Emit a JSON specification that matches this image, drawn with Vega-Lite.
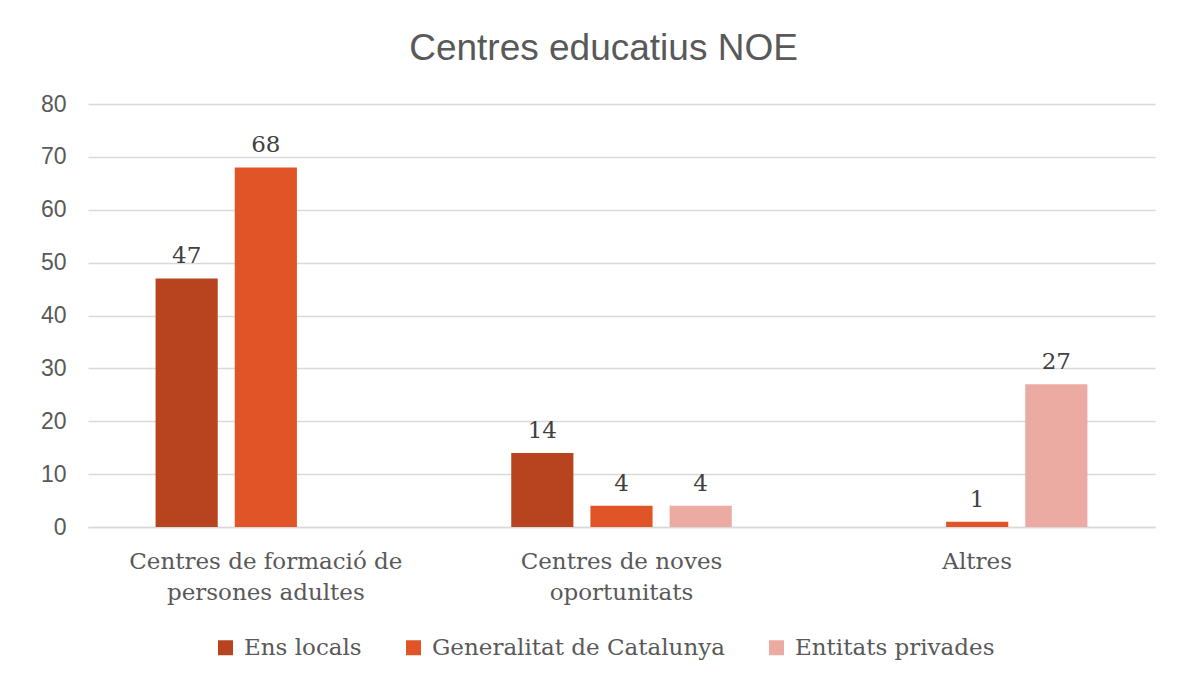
{
  "$schema": "https://vega.github.io/schema/vega-lite/v6.json",
  "width": 1067,
  "height": 423,
  "autosize": {"type": "none"},
  "padding": {"left": 88, "top": 104, "right": 38, "bottom": 156},
  "background": "white",
  "title": {
    "text": "Centres educatius NOE",
    "font": "Liberation Sans",
    "fontSize": 37,
    "fontWeight": "normal",
    "color": "#595959",
    "anchor": "middle",
    "offset": 25,
    "dx": -18
  },
  "data": {
    "values": [
      {"categoria": "Centres de formació de persones adultes", "tipus": "Ens locals", "valor": 47},
      {"categoria": "Centres de formació de persones adultes", "tipus": "Generalitat de Catalunya", "valor": 68},
      {"categoria": "Centres de noves oportunitats", "tipus": "Ens locals", "valor": 14},
      {"categoria": "Centres de noves oportunitats", "tipus": "Generalitat de Catalunya", "valor": 4},
      {"categoria": "Centres de noves oportunitats", "tipus": "Entitats privades", "valor": 4},
      {"categoria": "Altres", "tipus": "Generalitat de Catalunya", "valor": 1},
      {"categoria": "Altres", "tipus": "Entitats privades", "valor": 27}
    ]
  },
  "encoding": {
    "x": {
      "field": "categoria",
      "type": "nominal",
      "sort": ["Centres de formació de persones adultes", "Centres de noves oportunitats", "Altres"],
      "scale": {"paddingInner": 0.38, "paddingOuter": 0.19},
      "axis": {
        "title": null,
        "labelAngle": 0,
        "labelFont": "DejaVu Serif",
        "labelFontSize": 23,
        "labelColor": "#595959",
        "labelPadding": 23,
        "labelBaseline": "top",
        "labelLineHeight": 31,
        "labelLimit": 400,
        "ticks": false,
        "domainColor": "#d9d9d9",
        "domainWidth": 1.5,
        "labelExpr": "datum.label == 'Centres de formació de persones adultes' ? ['Centres de formació de', 'persones adultes'] : datum.label == 'Centres de noves oportunitats' ? ['Centres de noves', 'oportunitats'] : datum.label"
      }
    },
    "xOffset": {
      "field": "tipus",
      "type": "nominal",
      "sort": ["Ens locals", "Generalitat de Catalunya", "Entitats privades"],
      "scale": {"domain": ["Ens locals", "Generalitat de Catalunya", "Entitats privades"], "paddingInner": 0.215, "paddingOuter": 0}
    },
    "y": {
      "field": "valor",
      "type": "quantitative",
      "scale": {"domain": [0, 80]},
      "axis": {
        "title": null,
        "values": [0, 10, 20, 30, 40, 50, 60, 70, 80],
        "labelFont": "Liberation Sans",
        "labelFontSize": 23,
        "labelColor": "#595959",
        "labelPadding": 22,
        "ticks": false,
        "domain": false,
        "gridColor": "#d9d9d9",
        "gridWidth": 1.5
      }
    }
  },
  "layer": [
    {
      "mark": {"type": "bar"},
      "encoding": {
        "color": {
          "field": "tipus",
          "type": "nominal",
          "sort": ["Ens locals", "Generalitat de Catalunya", "Entitats privades"],
          "scale": {
            "domain": ["Ens locals", "Generalitat de Catalunya", "Entitats privades"],
            "range": ["#B7441F", "#E05427", "#EBABA3"]
          },
          "legend": {
            "title": null,
            "orient": "none",
            "legendX": 126,
            "legendY": 532,
            "direction": "horizontal",
            "symbolType": "square",
            "symbolSize": 225,
            "symbolStrokeWidth": 0,
            "labelFont": "DejaVu Serif",
            "labelFontSize": 23,
            "labelColor": "#595959",
            "labelLimit": 400,
            "columnPadding": 40,
            "labelOffset": 7
          }
        }
      }
    },
    {
      "mark": {
        "type": "text",
        "baseline": "bottom",
        "dy": -10,
        "font": "DejaVu Serif",
        "fontSize": 23,
        "color": "#404040"
      },
      "encoding": {
        "text": {"field": "valor", "type": "quantitative"}
      }
    }
  ],
  "config": {
    "view": {"stroke": null}
  }
}
